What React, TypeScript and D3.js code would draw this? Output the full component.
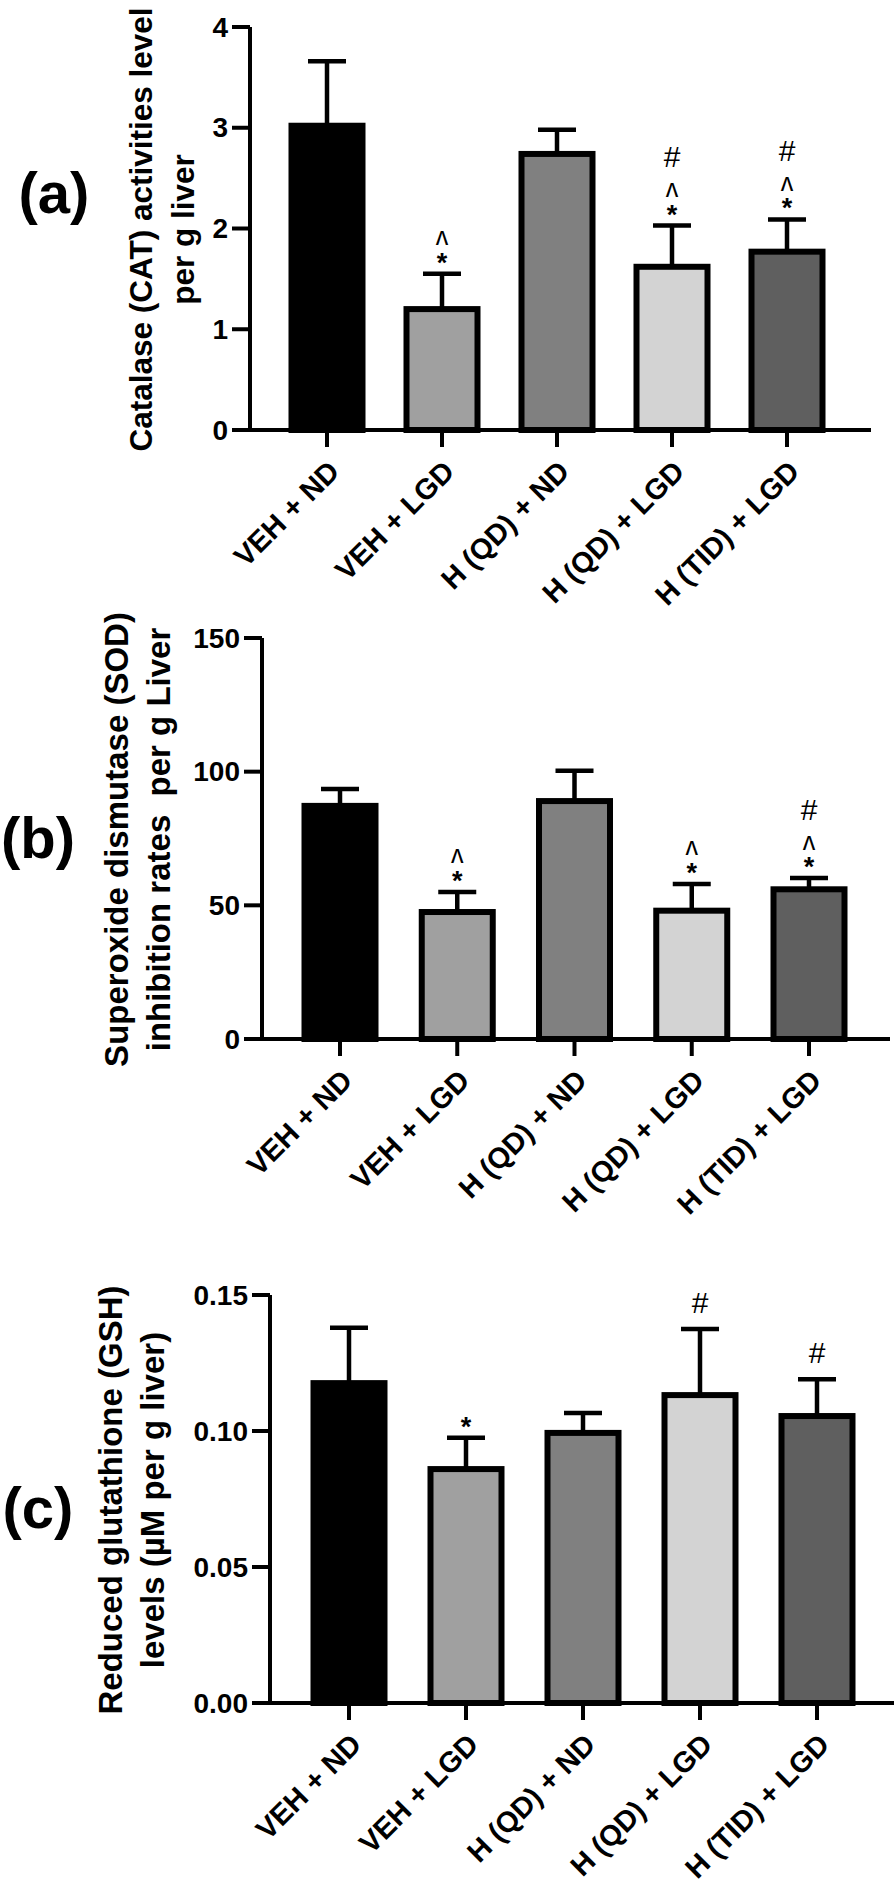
import * as d3 from "d3";

const groups = ["VEH + ND", "VEH + LGD", "H (QD) + ND", "H (QD) + LGD", "H (TID) + LGD"];
const fills = ["#000000", "#a0a0a0", "#808080", "#d3d3d3", "#5f5f5f"];

// (a) catalase
const catMean = [3.02, 1.2, 2.74, 1.62, 1.77];
const catUpper = [3.66, 1.55, 2.98, 2.03, 2.09];
const catMarks = [[], ["*", "^"], [], ["*", "^", "#"], ["*", "^", "#"]];
const catTicks = [0, 1, 2, 3, 4];

// (b) SOD
const sodMean = [87.2, 47.5, 89, 48, 56];
const sodUpper = [93.5, 55, 100.3, 58, 60.2];
const sodMarks = [[], ["*", "^"], [], ["*", "^"], ["*", "^", "#"]];
const sodTicks = [0, 50, 100, 150];

// (c) GSH
const gshMean = [0.1176, 0.086, 0.0993, 0.1132, 0.1055];
const gshUpper = [0.138, 0.0975, 0.1066, 0.1375, 0.119];
const gshMarks = [[], ["*"], [], ["#"], ["#"]];
const gshTicks = [0, 0.05, 0.1, 0.15];

const font = "'Liberation Sans', Arial, sans-serif";

type PanelProps = {
  letter: string;
  title: string[];
  titleSize: number;
  mean: number[];
  upper: number[];
  marks: string[][];
  ticks: number[];
  fmt: (v: number) => string;
  axisX: number;
  axisEnd: number;
  firstC: number;
  lastC: number;
  y0: number;
  yTop: number;
  letterX: number;
  letterY: number;
  titleX: number;
};

function Panel(p: PanelProps) {
  const max = p.ticks[p.ticks.length - 1];
  const y = d3.scaleLinear().domain([0, max]).range([p.y0, p.yTop]);
  const x = d3.scalePoint<string>().domain(groups).range([p.firstC, p.lastC]);
  const bw = 71;
  const cap = 19;
  const midY = (p.y0 + p.yTop) / 2 + 1;

  return (
    <g>
      <text
        x={p.letterX}
        y={p.letterY}
        fontSize={58}
        fontWeight="bold"
        textAnchor="middle"
        dominantBaseline="central"
      >
        {p.letter}
      </text>
      {p.title.map((t, i) => (
        <text
          key={i}
          transform={`translate(${p.titleX + i * 42},${midY}) rotate(-90)`}
          fontSize={p.titleSize}
          fontWeight="bold"
          textAnchor="middle"
          style={{ whiteSpace: "pre" }}
        >
          {t}
        </text>
      ))}

      {groups.map((g, i) => {
        const cx = x(g)!;
        return (
          <g key={g}>
            <line x1={cx} x2={cx} y1={y(p.mean[i])} y2={y(p.upper[i])} stroke="#000" strokeWidth={4.5} />
            <line
              x1={cx - cap}
              x2={cx + cap}
              y1={y(p.upper[i])}
              y2={y(p.upper[i])}
              stroke="#000"
              strokeWidth={4.5}
            />
            <rect
              x={cx - bw / 2}
              width={bw}
              y={y(p.mean[i])}
              height={p.y0 - y(p.mean[i])}
              fill={fills[i]}
              stroke="#000"
              strokeWidth={6}
            />
            {p.marks[i].map((m, j) => {
              const cy = y(p.upper[i]) - (m === "#" ? 27 : 23) - j * 21;
              if (m === "#")
                return (
                  <text key={j} x={cx} y={cy} fontSize={30} textAnchor="middle" dy="0.36em">
                    #
                  </text>
                );
              if (m === "^")
                return (
                  <text key={j} x={cx} y={cy} fontSize={25} textAnchor="middle" dy="0.62em">
                    {"\u028C"}
                  </text>
                );
              return (
                <text key={j} x={cx} y={cy} fontSize={27} fontWeight="bold" textAnchor="middle" dy="0.78em">
                  *
                </text>
              );
            })}
          </g>
        );
      })}

      <line x1={p.axisX} x2={p.axisX} y1={p.yTop} y2={p.y0 + 2} stroke="#000" strokeWidth={4} />
      <line x1={p.axisX - 18} x2={p.axisEnd} y1={p.y0} y2={p.y0} stroke="#000" strokeWidth={4} />
      {p.ticks.map((t) => (
        <g key={t}>
          <line x1={p.axisX - 18} x2={p.axisX} y1={y(t)} y2={y(t)} stroke="#000" strokeWidth={4} />
          <text
            x={p.axisX - 22}
            y={y(t)}
            fontSize={28}
            fontWeight="bold"
            textAnchor="end"
            dominantBaseline="central"
          >
            {p.fmt(t)}
          </text>
        </g>
      ))}
      {groups.map((g) => {
        const cx = x(g)!;
        return (
          <g key={g}>
            <line x1={cx} x2={cx} y1={p.y0} y2={p.y0 + 17} stroke="#000" strokeWidth={4} />
            <text
              transform={`translate(${cx + 7},${p.y0 + 36}) rotate(-45)`}
              fontSize={29}
              fontWeight="bold"
              textAnchor="end"
              dominantBaseline="central"
            >
              {g}
            </text>
          </g>
        );
      })}
    </g>
  );
}

export default function App() {
  return (
    <svg
      width={894}
      height={1889}
      style={{ position: "absolute", left: 0, top: 0, background: "#fff", fontFamily: font }}
    >
      <rect width={894} height={1889} fill="#fff" />
      <Panel
        letter="(a)"
        title={["Catalase (CAT) activities level", "per g liver"]}
        titleSize={31.5}
        mean={catMean}
        upper={catUpper}
        marks={catMarks}
        ticks={catTicks}
        fmt={(v) => String(v)}
        axisX={250}
        axisEnd={871}
        firstC={327}
        lastC={787}
        y0={430}
        yTop={27}
        letterX={54}
        letterY={192}
        titleX={152}
      />
      <Panel
        letter="(b)"
        title={["Superoxide dismutase (SOD)", "inhibition rates  per g Liver"]}
        titleSize={33}
        mean={sodMean}
        upper={sodUpper}
        marks={sodMarks}
        ticks={sodTicks}
        fmt={(v) => String(v)}
        axisX={262}
        axisEnd={890}
        firstC={340}
        lastC={809}
        y0={1039}
        yTop={638}
        letterX={38}
        letterY={837}
        titleX={128}
      />
      <Panel
        letter="(c)"
        title={["Reduced glutathione (GSH)", "levels (\u00B5M per g liver)"]}
        titleSize={33}
        mean={gshMean}
        upper={gshUpper}
        marks={gshMarks}
        ticks={gshTicks}
        fmt={(v) => v.toFixed(2)}
        axisX={270}
        axisEnd={894}
        firstC={349}
        lastC={817}
        y0={1703}
        yTop={1295}
        letterX={38}
        letterY={1507}
        titleX={122}
      />
    </svg>
  );
}
